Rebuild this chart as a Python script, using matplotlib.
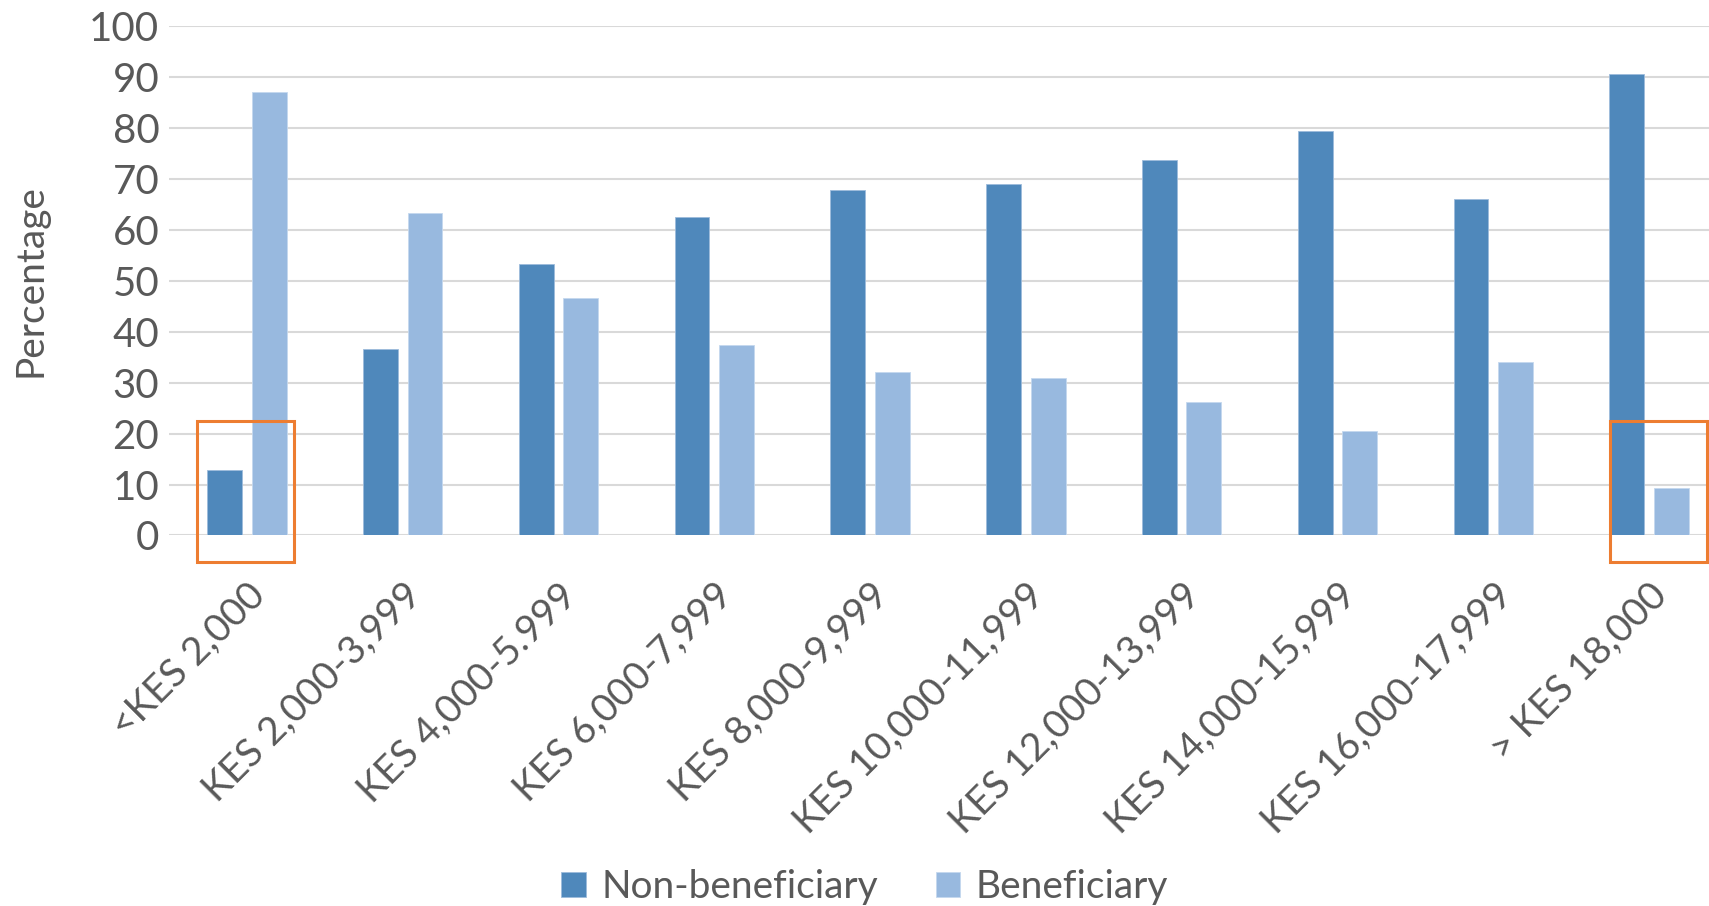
import numpy as np
import matplotlib.pyplot as plt
from matplotlib.patches import Rectangle

# data
categories = ["<KES 2,000", "KES 2,000-3,999", "KES 4,000-5.999", "KES 6,000-7,999",
              "KES 8,000-9,999", "KES 10,000-11,999", "KES 12,000-13,999",
              "KES 14,000-15,999", "KES 16,000-17,999", "> KES 18,000"]
non_beneficiary = [12.9, 36.6, 53.3, 62.6, 67.9, 69.0, 73.7, 79.4, 66.0, 90.6]
beneficiary = [87.1, 63.4, 46.7, 37.4, 32.1, 31.0, 26.3, 20.6, 34.0, 9.4]
highlight_idx = [0, 9]

dark = "#4F88BB"
light = "#98B9DF"
text_col = "#595959"

plt.rcParams['font.family'] = ['Lato', 'DejaVu Sans']
fs = 28

fig = plt.figure(figsize=(17.09, 9.06), dpi=100)
ax = fig.add_axes([0.0989, 0.409, 0.9011, 0.562])

x = np.arange(len(categories))
w = 0.224
off = 0.143
ax.bar(x - off, non_beneficiary, w, color=dark, edgecolor="#9DBBDB", linewidth=0.6,
       label="Non-beneficiary", zorder=3)
ax.bar(x + off, beneficiary, w, color=light, edgecolor="#C5D8EE", linewidth=0.6,
       label="Beneficiary", zorder=3)

ax.set_xlim(-0.5, 9.385)
ax.set_ylim(0, 100)
ax.set_yticks(range(0, 101, 10))
ax.yaxis.grid(True, color="#D9D9D9", linewidth=1.5, zorder=0)
ax.set_axisbelow(True)
for s in ax.spines.values():
    s.set_visible(False)
ax.tick_params(axis="both", length=0, colors=text_col, labelsize=fs)
ax.tick_params(axis="y", pad=7, labelsize=29)
ax.set_xticks(x)
ax.set_xticklabels(categories, rotation=45, ha="right", rotation_mode="anchor")
ax.tick_params(axis="x", pad=30)
ax.set_ylabel("Percentage", fontsize=fs, color=text_col)
ax.yaxis.set_label_coords(-0.078, 0.5)

# orange highlight boxes
boxes = [(-0.32, 0.62), (-0.25, 0.62)]
for i, (dx, bw) in zip(highlight_idx, boxes):
    r = Rectangle((i + dx, -5.3), bw, 27.7, fill=False, edgecolor="#ED7D31",
                  linewidth=2.2, clip_on=False, zorder=5)
    ax.add_patch(r)

leg = fig.legend(loc="lower center", bbox_to_anchor=(0.506, -0.038), ncol=2,
                 frameon=False, fontsize=fs, handlelength=0.62, handleheight=0.62,
                 columnspacing=1.5, handletextpad=0.4)
for t in leg.get_texts():
    t.set_color(text_col)

fig.savefig("out.png", dpi=100)
